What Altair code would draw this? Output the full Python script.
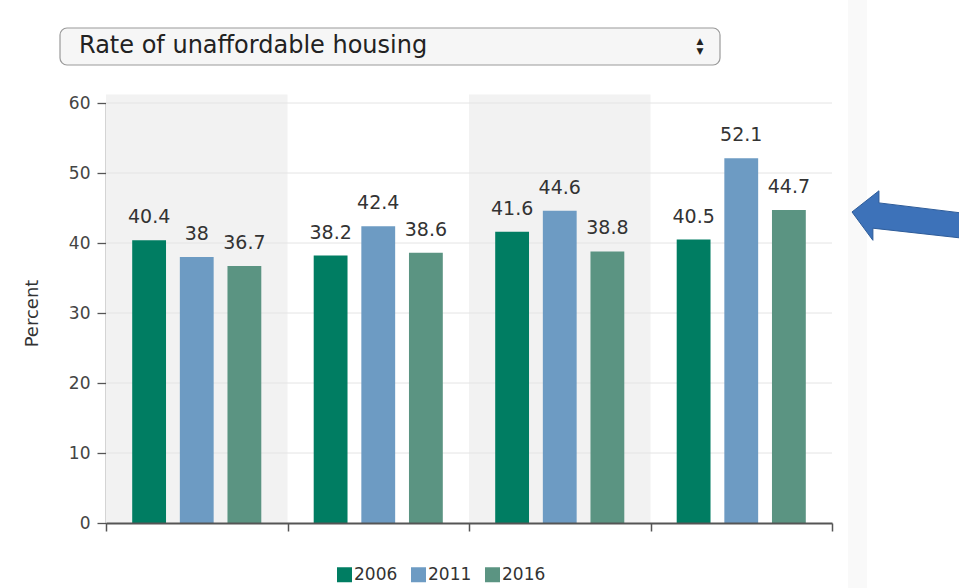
import altair as alt
import pandas as pd

groups = ["1", "2", "3", "4"]
years = ["2006", "2011", "2016"]
v2006 = [40.4, 38.2, 41.6, 40.5]
v2011 = [38, 42.4, 44.6, 52.1]
v2016 = [36.7, 38.6, 38.8, 44.7]
colors = ["#007d62", "#6d9bc3", "#5b9482"]
shaded_groups = ["1", "3"]
y_ticks = [0, 10, 20, 30, 40, 50, 60]
menu_label = "Rate of unaffordable housing"

rows = []
for yr, vals in zip(years, [v2006, v2011, v2016]):
    for g, v in zip(groups, vals):
        rows.append({"group": g, "year": yr, "value": v})
df = pd.DataFrame(rows)
bands = pd.DataFrame({"group": shaded_groups, "lo": [0, 0], "hi": [61.2, 61.2]})
grid = pd.DataFrame({"value": y_ticks[1:]})
one = pd.DataFrame({"k": [0]})

W, H = 726, 420
font = "DejaVu Sans"

xscale = alt.Scale(domain=groups, paddingInner=0, paddingOuter=0)
yscale = alt.Scale(domain=[0, 60], nice=False, zero=True)
offscale = alt.Scale(domain=years, paddingInner=0.29, paddingOuter=0.55)

xaxis = alt.Axis(labels=False, title=None, tickBand="extent", tickSize=8,
                 tickColor="#555", domainColor="#555", domainWidth=2, tickWidth=1.5,
                 grid=False)
yaxis = alt.Axis(values=y_ticks, title="Percent", titleFont=font, titleFontSize=18,
                 titleFontWeight="normal", titleColor="#333", titlePadding=27,
                 labelFont=font, labelFontSize=17, labelColor="#444", labelPadding=7,
                 tickSize=9, tickColor="#555", tickWidth=1.3, domainColor="#555",
                 domainWidth=1.5, grid=False)

band_layer = alt.Chart(bands).mark_rect(color="#f2f2f2").encode(
    x=alt.X("group:N", scale=xscale, axis=xaxis),
    y=alt.Y("lo:Q", scale=yscale, axis=yaxis),
    y2="hi:Q",
)

grid_layer = alt.Chart(grid).mark_rule(color="#e4e4e4", strokeWidth=1).encode(
    y=alt.Y("value:Q", scale=yscale),
    x=alt.value(0), x2=alt.value(W),
)

bars = alt.Chart(df).mark_bar().encode(
    x=alt.X("group:N", scale=xscale),
    xOffset=alt.XOffset("year:N", scale=offscale),
    y=alt.Y("value:Q", scale=yscale),
    color=alt.Color("year:N", scale=alt.Scale(domain=years, range=colors),
                    legend=alt.Legend(title=None, orient="none", legendX=230, legendY=463,
                                      direction="horizontal", symbolType="square",
                                      symbolSize=225, symbolStrokeWidth=0,
                                      labelFont=font, labelFontSize=17, labelColor="#333",
                                      labelOffset=1, columnPadding=12)),
)

labels = alt.Chart(df).mark_text(baseline="alphabetic", dy=-17, font=font, fontSize=19, color="#333").encode(
    x=alt.X("group:N", scale=xscale),
    xOffset=alt.XOffset("year:N", scale=offscale),
    y=alt.Y("value:Q", scale=yscale),
    text=alt.Text("value:Q"),
)

box = alt.Chart(one).mark_rect(fill="#f6f6f6", stroke="#9a9a9a", strokeWidth=1.2, cornerRadius=7).encode(
    x=alt.value(-46), x2=alt.value(614), y=alt.value(-75), y2=alt.value(-38))
box_text = alt.Chart(one).mark_text(align="left", baseline="middle", font=font, fontSize=24, color="#222").encode(
    x=alt.value(-27), y=alt.value(-57), text=alt.value(menu_label))
up = alt.Chart(one).mark_text(align="center", baseline="middle", font="DejaVu Sans", fontSize=9, color="#222").encode(
    x=alt.value(594), y=alt.value(-62), text=alt.value("▲"))
down = alt.Chart(one).mark_text(align="center", baseline="middle", font="DejaVu Sans", fontSize=9, color="#222").encode(
    x=alt.value(594), y=alt.value(-52), text=alt.value("▼"))

strip = alt.Chart(one).mark_rect(fill="#f9f9f9").encode(
    x=alt.value(742), x2=alt.value(761), y=alt.value(-103), y2=alt.value(485))

arrow_path = "M -1 -0.055 L -0.51 -0.44 L -0.51 -0.22 L 1 -0.036 L 1 0.42 L -0.62 0.24 L -0.62 0.46 Z"
arrow = alt.Chart(one).mark_point(shape=arrow_path, filled=True, fill="#3d72b9", stroke="#2e5c99",
                                  strokeWidth=1, opacity=1).encode(
    x=alt.value(801), y=alt.value(112), size=alt.value(12100))

chart = alt.layer(strip, band_layer, grid_layer, bars, labels, box, box_text, up, down, arrow).properties(
    width=W, height=H,
    autosize=alt.AutoSizeParams(type="none"),
    padding={"left": 106, "top": 103, "right": 127, "bottom": 65},
    background="white",
).configure_view(stroke=None)

chart.save("out.html", embed_options={"renderer": "svg", "actions": False})
